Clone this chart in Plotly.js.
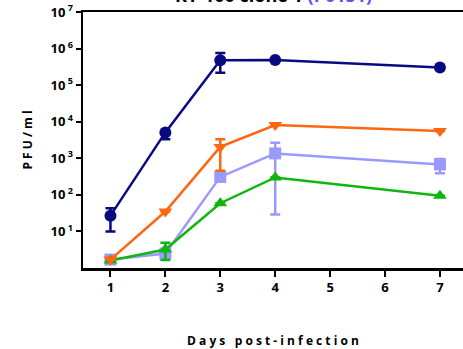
<!DOCTYPE html>
<html>
<head>
<meta charset="utf-8">
<script src="https://cdn.plot.ly/plotly-3.0.1.min.js"></script>
<style>html,body{margin:0;padding:0;background:#fff;overflow:hidden;}</style>
</head>
<body>
<div id="chart" style="width:463px;height:349px;"></div>
<script>
const days = [1, 2, 3, 4, 7];

const navyY = [27, 5100, 480000, 490000, 305000];
const navyErrPlus = [16, 400, 280000, 0, 0];
const navyErrMinus = [17, 1800, 262000, 0, 0];

const orangeY = [1.7, 35, 2050, 8100, 5550];
const orangeErrPlus = [0, 0, 1280, 0, 0];
const orangeErrMinus = [0, 0, 1595, 0, 0];

const lavenderY = [1.7, 2.5, 310, 1360, 680];
const lavenderErrPlus = [0, 0, 0, 1290, 270];
const lavenderErrMinus = [0, 0, 0, 1331, 290];

const greenY = [1.6, 3.2, 59, 300, 95];
const greenErrPlus = [0, 1.7, 0, 0, 0];
const greenErrMinus = [0, 1.55, 0, 0, 0];

const yTickVals = [10, 100, 1000, 10000, 100000, 1000000, 10000000];
const yTickText = ['10<sup> 1</sup>', '10<sup> 2</sup>', '10<sup> 3</sup>', '10<sup> 4</sup>', '10<sup> 5</sup>', '10<sup> 6</sup>', '10<sup> 7</sup>'];
const xTickVals = [1, 2, 3, 4, 5, 6, 7];

function series(y, plus, minus, color, symbol) {
  return {
    x: days, y: y, type: 'scatter', mode: 'lines+markers',
    line: {color: color, width: 2.5},
    marker: {color: color, symbol: symbol, size: 12},
    error_y: {type: 'data', symmetric: false, array: plus, arrayminus: minus,
              color: color, thickness: 2.5, width: 5},
    showlegend: false, cliponaxis: false
  };
}

const data = [
  series(lavenderY, lavenderErrPlus, lavenderErrMinus, '#9999ff', 'square'),
  series(greenY, greenErrPlus, greenErrMinus, '#11b511', 'triangle-up'),
  series(orangeY, orangeErrPlus, orangeErrMinus, '#ff6611', 'triangle-down'),
  series(navyY, navyErrPlus, navyErrMinus, '#0a0a80', 'circle')
];

const boldFont = {family: 'Open Sans, Liberation Sans, sans-serif', size: 13, color: '#000', weight: 'bold'};

const layout = {
  width: 463, height: 349,
  margin: {l: 83, r: 0, t: 12, b: 81},
  paper_bgcolor: '#fff', plot_bgcolor: '#fff',
  xaxis: {
    range: [0.5, 7.42], tickvals: xTickVals, ticktext: xTickVals.map(String),
    showline: true, linecolor: '#000', linewidth: 2.5, mirror: true,
    ticks: 'outside', ticklen: 6, tickwidth: 2, tickcolor: '#000',
    showgrid: false, zeroline: false, tickfont: boldFont,
    title: {text: '<b>D a y s   p o s t - i n f e c t i o n</b>', font: {family: 'Open Sans, sans-serif', size: 12, color: '#000'}, standoff: 42}
  },
  yaxis: {
    type: 'log', range: [0, 7], tickvals: yTickVals, ticktext: yTickText,
    showline: true, linecolor: '#000', linewidth: 2.5,
    ticks: 'outside', ticklen: 5, tickwidth: 2, tickcolor: '#000',
    showgrid: false, zeroline: false, tickfont: boldFont,
    title: {text: '<b>P F U / m l</b>', font: {family: 'Open Sans, sans-serif', size: 12, color: '#000'}, standoff: 16}
  },
  annotations: [{
    xref: 'paper', yref: 'paper', x: 0.5, y: 1.068, xanchor: 'center', yanchor: 'middle',
    showarrow: false,
    text: '<b>KY-100 clone 1 <span style="color:#5555ff">(P0151)</span></b>',
    font: {family: 'Open Sans, sans-serif', size: 18, color: '#000'}
  }]
};

Plotly.newPlot('chart', data, layout, {displayModeBar: false, staticPlot: true});
</script>
</body>
</html>
